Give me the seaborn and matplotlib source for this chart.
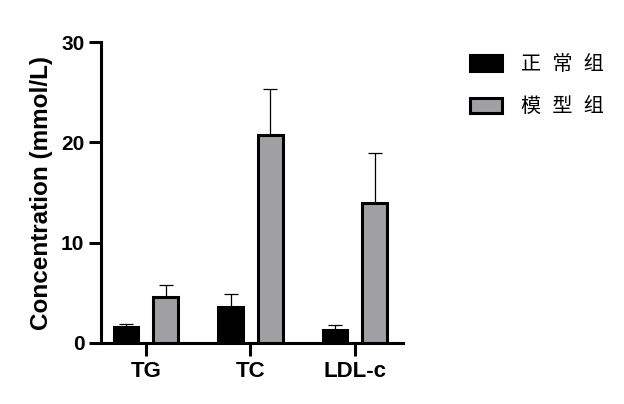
import numpy as np
import pandas as pd
import seaborn as sns
import matplotlib.pyplot as plt

categories = ['TG', 'TC', 'LDL-c']
groups = ['正  常  组', '模  型  组']
normal_mean = [1.6, 3.6, 1.3]
normal_err = [0.3, 1.3, 0.5]
model_mean = [4.6, 20.7, 14.0]
model_err = [1.2, 4.6, 4.9]

sns.set_style('ticks')
plt.rcParams['font.family'] = ['Liberation Sans', 'Noto Sans CJK SC', 'DejaVu Sans']
plt.rcParams['text.color'] = 'black'
plt.rcParams['axes.labelcolor'] = 'black'
plt.rcParams['xtick.color'] = 'black'
plt.rcParams['ytick.color'] = 'black'
plt.rcParams['axes.edgecolor'] = 'black'

df = pd.DataFrame({
    'cat': categories * 2,
    'group': [groups[0]] * 3 + [groups[1]] * 3,
    'val': normal_mean + model_mean,
    'err': normal_err + model_err,
})

fig = plt.figure(figsize=(6.24, 4.04), dpi=100)
ax = fig.add_axes([101/624, 1-343/404, (403-101)/624, (343-42)/404])

sns.barplot(data=df, x='cat', y='val', hue='group', order=categories, hue_order=groups,
            palette=['#000000', '#a0a0a4'], width=0.76, gap=0.38, errorbar=None,
            edgecolor='black', linewidth=2.2, ax=ax)

# error bars (upper only), centred on each bar
for cont, (means, errs) in zip(ax.containers, [(normal_mean, normal_err), (model_mean, model_err)]):
    xs = [p.get_x() + p.get_width()/2 for p in cont.patches]
    ax.errorbar(xs, means, yerr=[np.zeros(len(errs)), errs], fmt='none',
                ecolor='black', elinewidth=0.9, capsize=5, capthick=0.9, zorder=1)

ax.set_ylim(0, 30)
ax.set_yticks([0, 10, 20, 30])
ax.set_xlim(-0.43, 2.46)
ax.set_xlabel('')
ax.set_ylabel('Concentration (mmol/L)', fontsize=17.5, fontweight='bold', labelpad=6)
for side in ['top', 'right']:
    ax.spines[side].set_visible(False)
for side in ['left', 'bottom']:
    ax.spines[side].set_linewidth(2.2)
ax.tick_params(axis='both', width=2.2, length=9)
ax.tick_params(axis='y', labelsize=15, pad=3)
ax.tick_params(axis='x', labelsize=16, pad=4)
for lab in ax.get_xticklabels() + ax.get_yticklabels():
    lab.set_fontweight('bold')

handles, labels = ax.get_legend_handles_labels()
ax.get_legend().remove()
fig.legend(handles, labels, loc='upper left', bbox_to_anchor=(470/624, 1-55/404),
           frameon=False, fontsize=14.5, handlelength=1.6, handleheight=0.8,
           handletextpad=0.95, labelspacing=1.15, borderpad=0, borderaxespad=0)

plt.savefig('out.png', dpi=100)
